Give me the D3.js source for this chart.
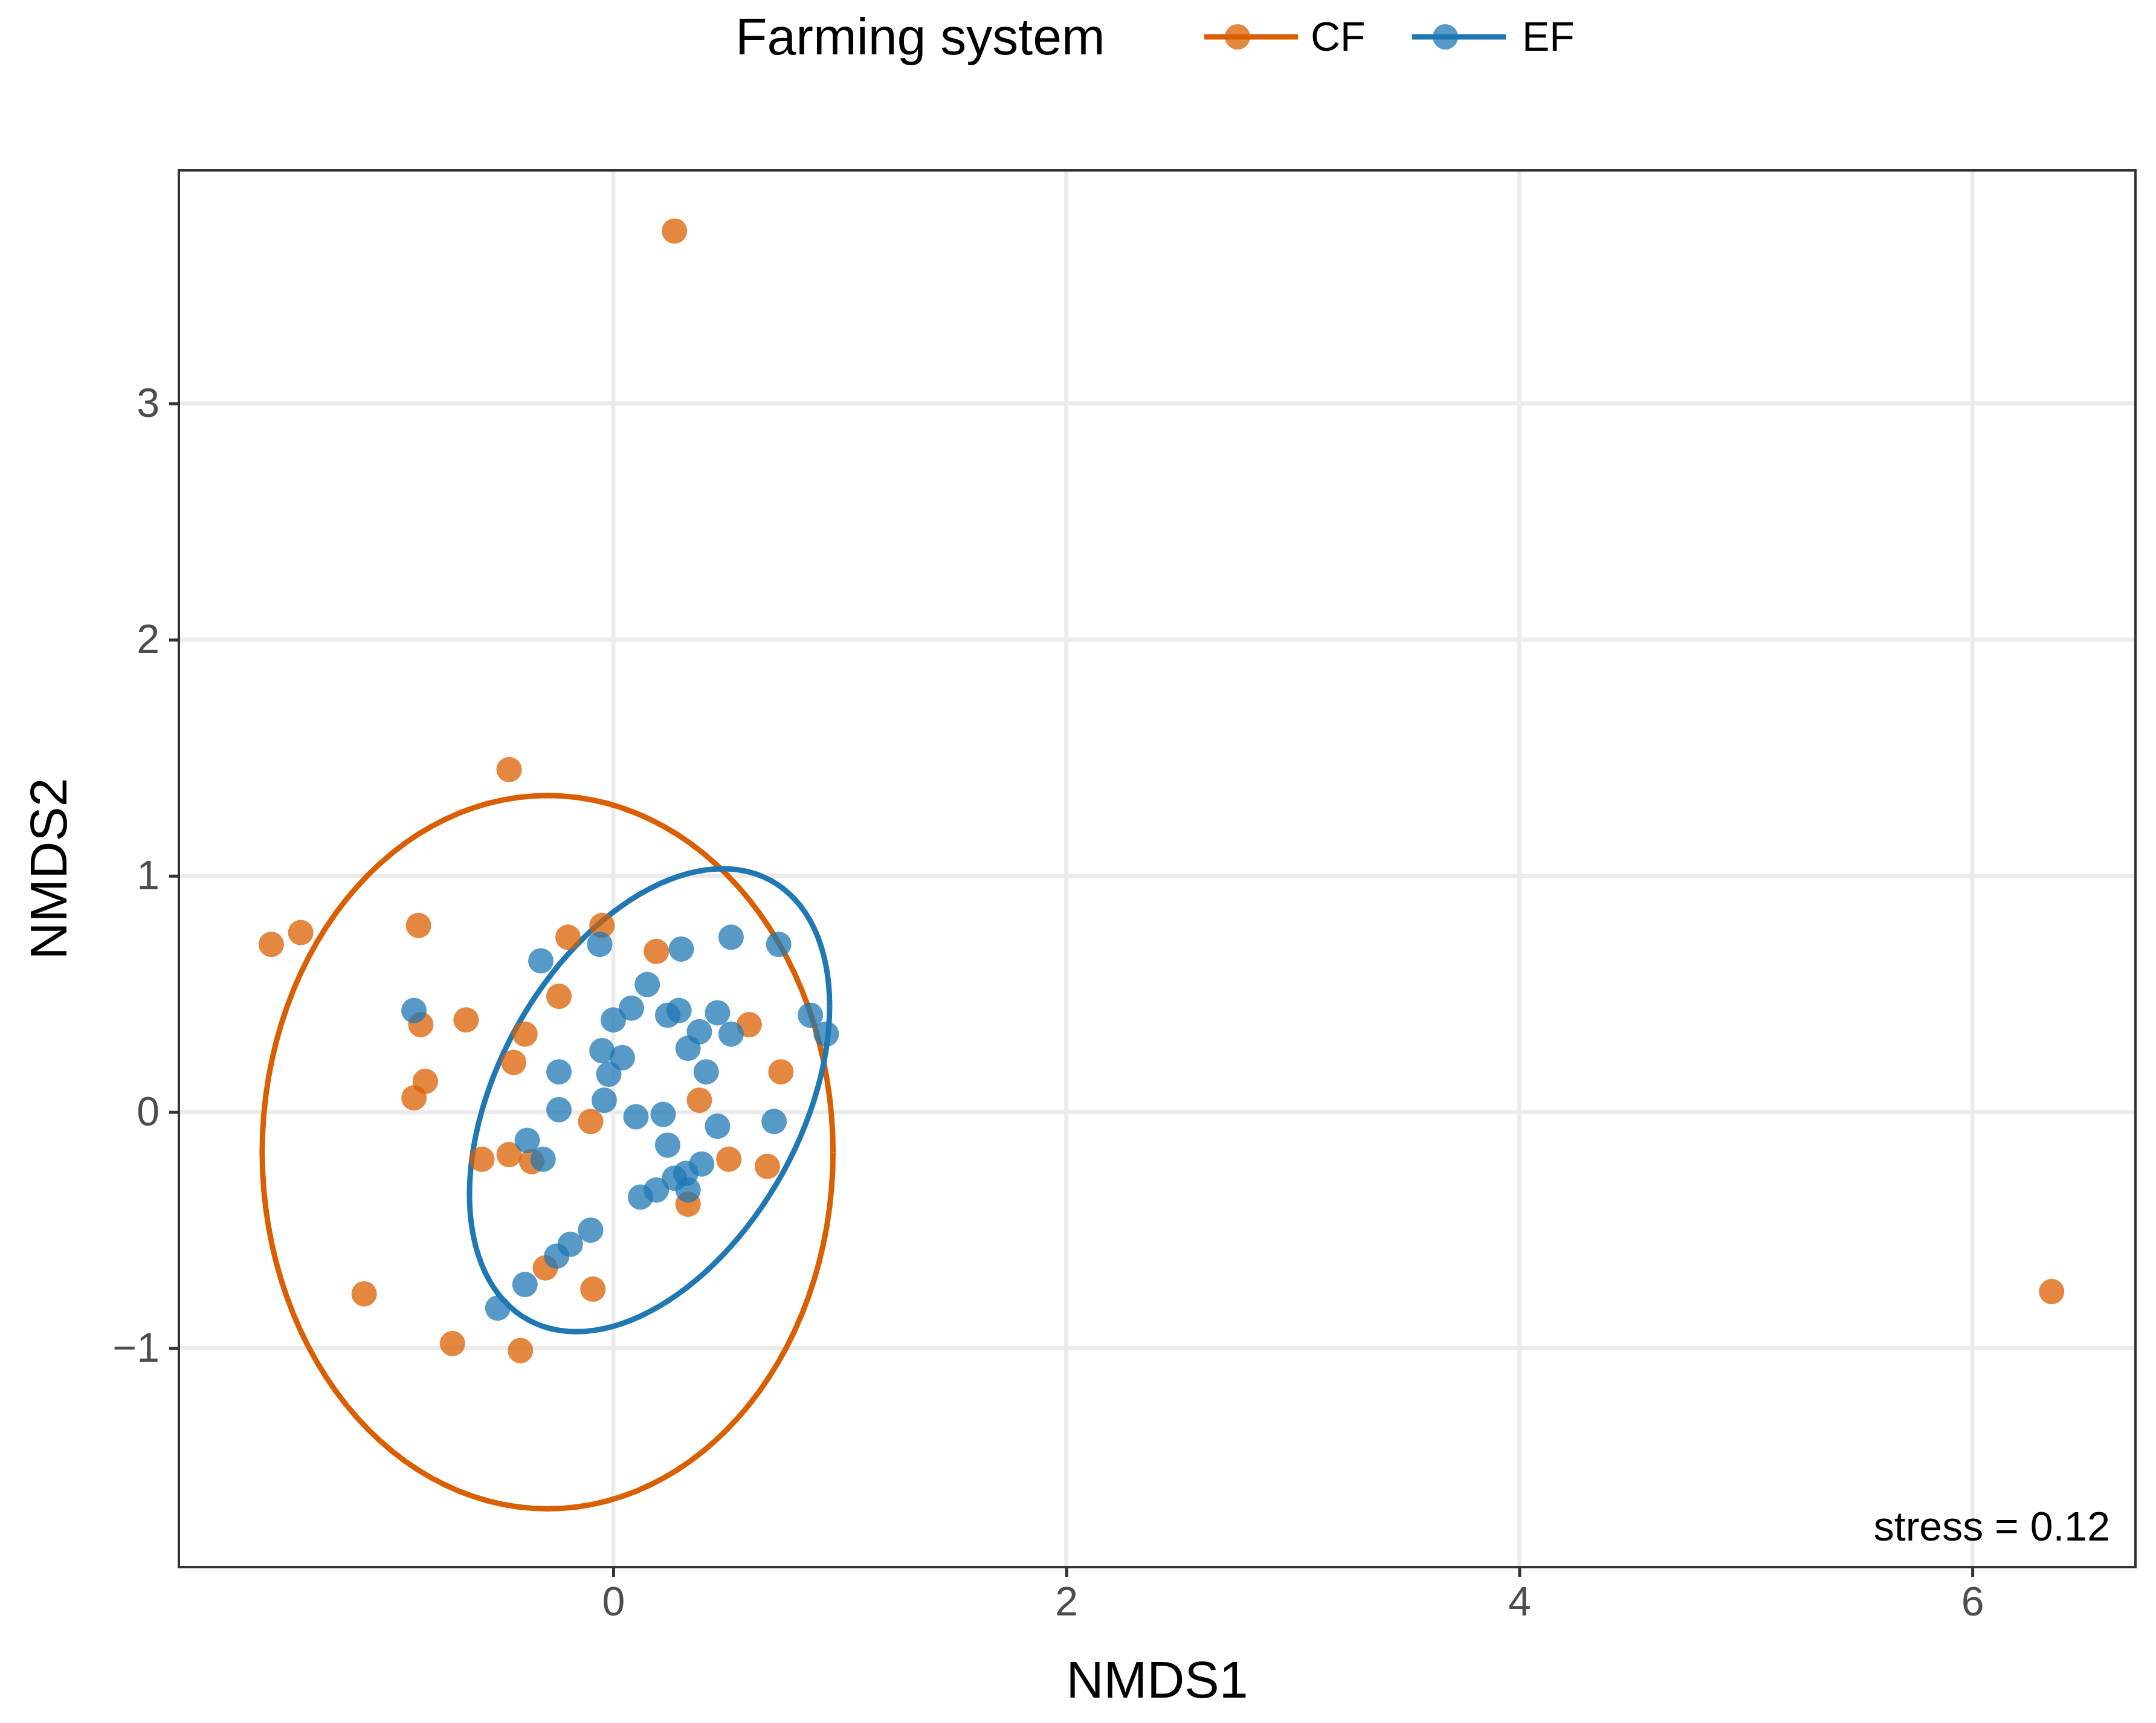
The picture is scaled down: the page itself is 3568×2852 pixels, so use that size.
<!DOCTYPE html>
<html>
<head>
<script src="https://d3js.org/d3.v7.min.js"></script>
<style>body{margin:0;background:#fff}</style>
</head>
<body>
<svg id="chart" width="3568" height="2852"></svg>
<script>
// CF points (NMDS1, NMDS2)
const cfX = [0.27,-0.46,-1.51,-1.38,-0.86,-0.05,-0.20,0.19,-0.85,-0.65,-0.24,-0.39,-0.44,-0.88,-0.83,0.60,0.74,0.38,-0.10,-0.58,-0.46,-0.36,0.51,0.68,0.33,-1.10,-0.30,-0.09,-0.71,-0.41,6.35];
const cfY = [3.73,1.45,0.71,0.76,0.79,0.79,0.74,0.68,0.37,0.39,0.49,0.33,0.21,0.06,0.13,0.37,0.17,0.05,-0.04,-0.20,-0.18,-0.21,-0.20,-0.23,-0.39,-0.77,-0.66,-0.75,-0.98,-1.01,-0.76];
// EF points
const efX = [-0.88,-0.32,-0.06,0.15,0.08,0.00,0.24,0.29,0.30,0.52,0.73,0.87,0.94,0.46,0.38,0.33,0.52,0.41,-0.05,0.04,-0.02,-0.24,-0.04,-0.24,0.10,0.22,0.71,0.46,0.24,-0.38,-0.31,0.39,0.32,0.27,0.19,0.12,0.33,-0.10,-0.19,-0.25,-0.39,-0.51];
const efY = [0.43,0.64,0.71,0.54,0.44,0.39,0.41,0.43,0.69,0.74,0.71,0.41,0.33,0.42,0.34,0.27,0.33,0.17,0.26,0.23,0.16,0.17,0.05,0.01,-0.02,-0.01,-0.04,-0.06,-0.14,-0.12,-0.20,-0.22,-0.26,-0.28,-0.33,-0.36,-0.33,-0.50,-0.56,-0.61,-0.73,-0.83];
// ellipses: centre, half-ranges, phase (deg)
const ellGroups = ["CF","EF"];
const ellCx = [-0.29, 0.16];
const ellCy = [-0.17, 0.05];
const ellA = [1.26, 0.795];
const ellB = [1.51, 0.98];
const ellPhi = [90, 66];
const xTicks = [0,2,4,6];
const yTicks = [-1,0,1,2,3];
const colors = {CF:"#D95F02", EF:"#1F78B4"};

const svg = d3.select("#chart");
const L=296, R=3534, T=282, B=2594;
const x = d3.scaleLinear().domain([-1.918,6.72]).range([L,R]);
const y = d3.scaleLinear().domain([-1.927,3.987]).range([B,T]);
const font = "Liberation Sans, Arial, sans-serif";
const fmt = d => d < 0 ? "\u2212" + Math.abs(d) : String(d);

// grid
const grid = svg.append("g").attr("stroke","#EBEBEB").attr("stroke-width",7);
xTicks.forEach(t => grid.append("line").attr("x1",x(t)).attr("x2",x(t)).attr("y1",T).attr("y2",B));
yTicks.forEach(t => grid.append("line").attr("y1",y(t)).attr("y2",y(t)).attr("x1",L).attr("x2",R));

// ellipses
const ts = d3.range(0, 2*Math.PI + 0.001, Math.PI/60);
ellGroups.forEach((g,i) => {
  const phi = ellPhi[i]*Math.PI/180;
  const line = d3.line()
    .x(t => x(ellCx[i] + ellA[i]*Math.cos(t)))
    .y(t => y(ellCy[i] + ellB[i]*Math.cos(t - phi)));
  svg.append("path").attr("d", line(ts)).attr("fill","none")
    .attr("stroke", colors[g]).attr("stroke-width",9);
});

// points
function pts(xs, ys, col) {
  svg.append("g").selectAll("circle").data(xs).join("circle")
    .attr("cx", d => x(d)).attr("cy", (d,i) => y(ys[i]))
    .attr("r", 21).attr("fill", col).attr("fill-opacity", 0.75);
}
pts(cfX, cfY, colors.CF);
pts(efX, efY, colors.EF);

// panel border
svg.append("rect").attr("x",L).attr("y",T).attr("width",R-L).attr("height",B-T)
  .attr("fill","none").attr("stroke","#333").attr("stroke-width",4);

// axes
const xa = svg.append("g").attr("transform",`translate(0,${B})`)
  .call(d3.axisBottom(x).tickValues(xTicks).tickSize(16).tickPadding(16).tickFormat(fmt));
const ya = svg.append("g").attr("transform",`translate(${L},0)`)
  .call(d3.axisLeft(y).tickValues(yTicks).tickSize(16).tickPadding(16).tickFormat(fmt));
[xa,ya].forEach(a => {
  a.select(".domain").remove();
  a.selectAll("line").attr("stroke","#333").attr("stroke-width",5);
  a.selectAll("text").attr("font-family",font).attr("font-size",68).attr("fill","#4D4D4D");
});

svg.append("text").attr("x",(L+R)/2).attr("y",2810).attr("text-anchor","middle")
  .attr("font-family",font).attr("font-size",86).text("NMDS1");
svg.append("text").attr("transform",`translate(110,${(T+B)/2}) rotate(-90)`).attr("text-anchor","middle")
  .attr("font-family",font).attr("font-size",86).text("NMDS2");

svg.append("text").attr("x",3492).attr("y",2550).attr("text-anchor","end")
  .attr("font-family",font).attr("font-size",68).text("stress = 0.12");

// legend
const lg = svg.append("g");
lg.append("text").attr("x",1217).attr("y",90).attr("font-family",font).attr("font-size",86).text("Farming system");
[["CF",1993,2169],["EF",2337,2519]].forEach(([g,kx,tx]) => {
  lg.append("line").attr("x1",kx).attr("x2",kx+155).attr("y1",61).attr("y2",61)
    .attr("stroke",colors[g]).attr("stroke-width",9);
  lg.append("circle").attr("cx",kx+55).attr("cy",61).attr("r",21).attr("fill",colors[g]).attr("fill-opacity",0.75);
  lg.append("text").attr("x",tx).attr("y",84).attr("font-family",font).attr("font-size",68).text(g);
});
</script>
</body>
</html>
